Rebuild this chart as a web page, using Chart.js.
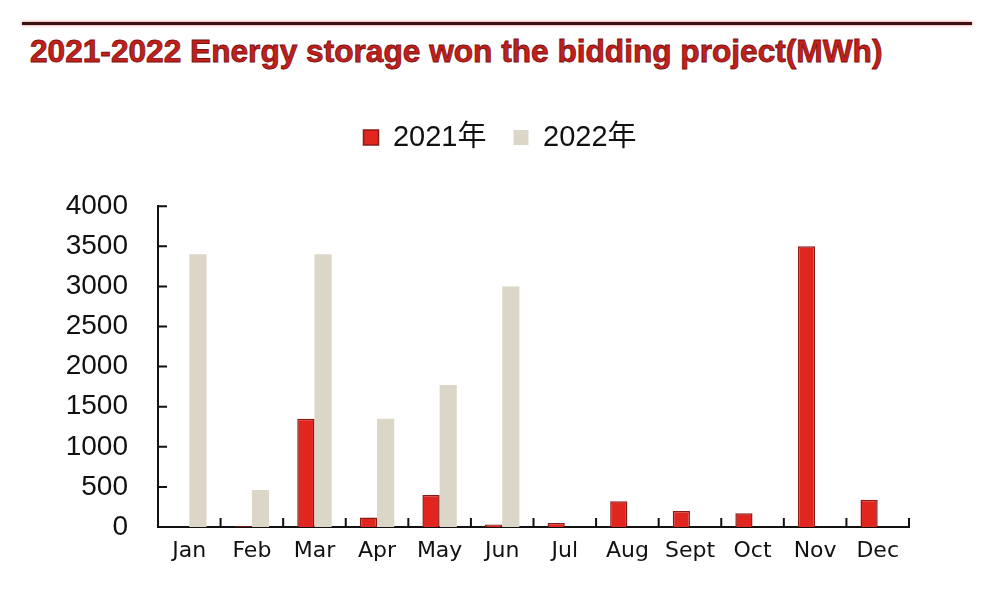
<!DOCTYPE html>
<html>
<head>
<meta charset="utf-8">
<script src="https://cdn.jsdelivr.net/npm/chart.js@4/dist/chart.umd.min.js"></script>
<style>
  html, body { margin: 0; padding: 0; background: #fff; }
  #wrap { position: relative; width: 1000px; height: 616px; overflow: hidden; }
  #rule { position: absolute; left: 22px; top: 22px; width: 950px; height: 3px; background: #3a1212; box-shadow: 0 0 3px #e07070; }
  #title { position: absolute; left: 30px; top: 34px; white-space: nowrap; transform-origin: 0 0;
           font-family: "Liberation Sans", Arial, sans-serif; font-weight: bold; font-size: 31px;
           color: #c3201c; -webkit-text-stroke: 0.8px #7a1010; }
  #chart { position: absolute; left: 0; top: 0; }
</style>
</head>
<body>
<div id="wrap">
  <div id="rule"></div>
  <div id="title">2021-2022 Energy storage won the bidding project(MWh)</div>
  <canvas id="chart" width="1000" height="616"></canvas>
</div>
<script>
const months = ["Jan", "Feb", "Mar", "Apr", "May", "Jun", "Jul", "Aug", "Sept", "Oct", "Nov", "Dec"];
const values2021 = [0, 10, 1350, 120, 400, 30, 50, 320, 200, 170, 3500, 340];
const values2022 = [3400, 460, 3400, 1350, 1770, 3000, null, null, null, null, null, null];
const yTicks = [0, 500, 1000, 1500, 2000, 2500, 3000, 3500, 4000];

// stretch the title to the width it has in the picture
const title = document.getElementById("title");
title.style.transform = "scaleX(" + (852 / title.offsetWidth) + ")";

// short tick marks pointing into the plot, like the original
const innerTicks = {
    id: "innerTicks",
    afterDatasetsDraw(chart) {
        const ctx = chart.ctx;
        const x = chart.scales.x;
        const y = chart.scales.y;
        const left = chart.chartArea.left;
        const bottom = chart.chartArea.bottom;
        ctx.save();
        ctx.strokeStyle = "#111";
        ctx.lineWidth = 2;
        ctx.beginPath();
        yTicks.forEach(v => {
            const py = y.getPixelForValue(v);
            ctx.moveTo(left, py);
            ctx.lineTo(left + 9, py);
        });
        for (let i = 0; i <= months.length; i++) {
            const px = x.getPixelForValue(i - 0.5);
            ctx.moveTo(px, bottom);
            ctx.lineTo(px, bottom - 9);
        }
        ctx.stroke();
        ctx.restore();
    }
};

new Chart(document.getElementById("chart"), {
    type: "bar",
    data: {
        labels: months,
        datasets: [{
            label: "2021年",
            data: values2021,
            backgroundColor: "#e0261f",
            borderColor: "#8a1a16",
            borderWidth: 1.5,
            categoryPercentage: 0.55,
            barPercentage: 1.0
        }, {
            label: "2022年",
            data: values2022,
            backgroundColor: "#dcd6c8",
            borderWidth: 0,
            categoryPercentage: 0.55,
            barPercentage: 1.0
        }]
    },
    options: {
        responsive: false,
        animation: false,
        layout: { padding: { top: 96, right: 0, bottom: 0, left: 0 } },
        plugins: {
            legend: {
                labels: {
                    color: "#111",
                    font: { family: "'Liberation Sans', 'Noto Sans CJK SC', sans-serif", size: 29 },
                    boxWidth: 15,
                    boxHeight: 15,
                    padding: 27
                }
            },
            subtitle: {
                display: true,
                text: "",
                weight: 500,
                font: { size: 1 },
                padding: { top: 0, bottom: 43 }
            },
            tooltip: { enabled: false }
        },
        scales: {
            x: {
                grid: { display: false },
                border: { display: true, color: "#111", width: 2 },
                ticks: {
                    color: "#111",
                    padding: 3,
                    font: { family: "'DejaVu Sans', sans-serif", size: 22 }
                },
                afterFit: s => { s.height = 89; }
            },
            y: {
                min: 0,
                max: 4000,
                grid: { display: false },
                border: { display: true, color: "#111", width: 2 },
                ticks: {
                    stepSize: 500,
                    color: "#111",
                    padding: 22,
                    font: { family: "'Liberation Sans', Arial, sans-serif", size: 28 },
                    callback: v => String(v)
                },
                afterFit: s => { s.width = 158; }
            },
            // empty right-hand margin so the legend stays centred on the page
            yRight: {
                position: "right",
                display: true,
                grid: { display: false },
                border: { display: false },
                ticks: { display: false },
                afterFit: s => { s.width = 91; }
            }
        }
    },
    plugins: [innerTicks]
});
</script>
</body>
</html>
